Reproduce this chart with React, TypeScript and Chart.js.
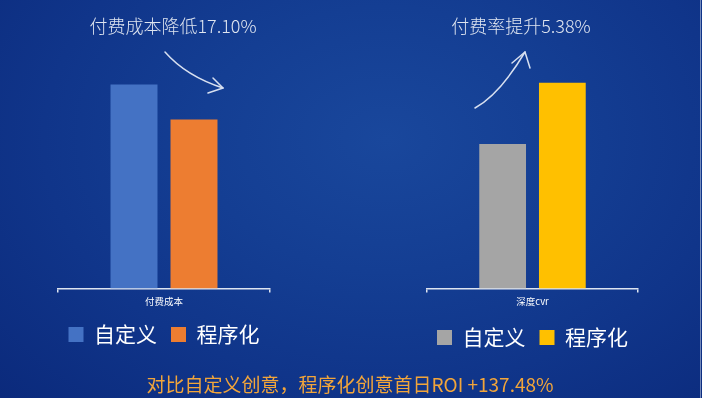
import React, { useEffect, useRef } from "react";
import { Chart, registerables } from "chart.js";

Chart.register(...registerables);

// ---- data ----
const seriesNames = ["自定义", "程序化"];
const leftCategories = ["付费成本"];
const leftCustom = [100];
const leftProgrammatic = [82.9];
const rightCategories = ["深度cvr"];
const rightCustom = [70.2];
const rightProgrammatic = [100];
const leftNote = "付费成本降低17.10%";
const rightNote = "付费率提升5.38%";
const caption = "对比自定义创意，程序化创意首日ROI +137.48%";

const FONT = '"Noto Sans CJK SC", "Noto Sans", sans-serif';

type PanelProps = {
  left: number;
  categories: string[];
  values: number[][];
  colors: string[];
  yMax: number;
  pad: { left: number; right: number; top: number; bottom: number };
  sideLeft: number;
  sideRight: number;
  axisExtra: number;
};

function BarPanel(props: PanelProps) {
  const ref = useRef<HTMLCanvasElement | null>(null);
  useEffect(() => {
    if (!ref.current) return;
    const hiddenAxis = (pos: "left" | "right", w: number, max: number) => ({
      type: "linear" as const,
      position: pos,
      display: true,
      min: 0,
      max,
      grid: { display: false, drawTicks: false },
      border: { display: false },
      ticks: { display: false },
      afterFit: (scale: any) => {
        scale.width = w;
      },
    });
    const chart = new Chart(ref.current, {
      type: "bar",
      data: {
        labels: props.categories,
        datasets: props.values.map((v, i) => ({
          label: seriesNames[i],
          data: v,
          backgroundColor: props.colors[i],
          borderWidth: 0,
          categoryPercentage: 0.566,
          barPercentage: 0.783,
          yAxisID: "y",
        })),
      },
      options: {
        responsive: false,
        animation: false,
        layout: { padding: props.pad },
        plugins: {
          legend: {
            position: "bottom",
            labels: {
              color: "#ffffff",
              font: { size: 21, family: FONT },
              boxWidth: 15,
              boxHeight: 15,
              padding: 14,
            },
          },
          tooltip: { enabled: false },
        },
        scales: {
          x: {
            grid: {
              display: true,
              drawOnChartArea: false,
              drawTicks: true,
              tickLength: 4,
              color: "#dde4f0",
              lineWidth: 1.5,
              offset: true,
            },
            border: { display: true, color: "#dde4f0", width: 1.5 },
            ticks: { color: "#ffffff", font: { size: 9.5, family: FONT }, padding: 3 },
            afterFit: (scale: any) => {
              scale.height += props.axisExtra;
            },
          },
          y: hiddenAxis("left", props.sideLeft, props.yMax),
          yRight: hiddenAxis("right", props.sideRight, props.yMax),
        },
      },
    });
    return () => chart.destroy();
  }, []);
  return (
    <canvas
      ref={ref}
      width={351}
      height={398}
      style={{ position: "absolute", left: props.left, top: 0, width: 351, height: 398 }}
    />
  );
}

const noteStyle = (x: number, y: number, size: number, color: string, weight = 400): React.CSSProperties => ({
  position: "absolute",
  left: x,
  top: y,
  transform: "translate(-50%, -50%)",
  whiteSpace: "nowrap",
  fontFamily: FONT,
  fontSize: size,
  fontWeight: weight,
  color,
  lineHeight: 1,
});

export default function App() {
  return (
    <div
      style={{
        position: "fixed",
        left: 0,
        top: 0,
        width: 702,
        height: 398,
        overflow: "hidden",
        background:
          "radial-gradient(ellipse 75% 95% at 55% 35%, #19479c 0%, #143e93 35%, #10358a 65%, #0b2a7c 100%)",
      }}
    >
      <BarPanel
        left={0}
        categories={leftCategories}
        values={[leftCustom, leftProgrammatic]}
        colors={["#4472c4", "#ed7d31"]}
        yMax={112}
        pad={{ left: 0, right: 23, top: 60, bottom: 43 }}
        sideLeft={58}
        sideRight={58}
        axisExtra={0}
      />
      <BarPanel
        left={351}
        categories={rightCategories}
        values={[rightCustom, rightProgrammatic]}
        colors={["#a5a5a5", "#ffc000"]}
        yMax={111}
        pad={{ left: 12, right: 0, top: 60, bottom: 40 }}
        sideLeft={64}
        sideRight={64}
        axisExtra={3}
      />
      <svg
        width={702}
        height={398}
        style={{ position: "absolute", left: 0, top: 0 }}
        fill="none"
        stroke="#d8e0f0"
        strokeWidth={1.5}
        strokeLinecap="round"
        strokeLinejoin="round"
      >
        <path d="M165,52 Q186,76 223,88" />
        <path d="M213,78 L223,88 L208,93" />
        <path d="M475,108 Q500,94 525,52" />
        <path d="M512,63 L525,52 L530,68" />
        <line x1={700.5} y1={0} x2={700.5} y2={398} stroke="rgba(200,212,235,0.55)" strokeWidth={1} />
      </svg>
      <div style={noteStyle(173, 25, 18, "#dfe5f0", 300)}>{leftNote}</div>
      <div style={noteStyle(521, 25, 18, "#dfe5f0", 300)}>{rightNote}</div>
      <div style={noteStyle(350, 383, 19, "#f2a53a")}>{caption}</div>
    </div>
  );
}
